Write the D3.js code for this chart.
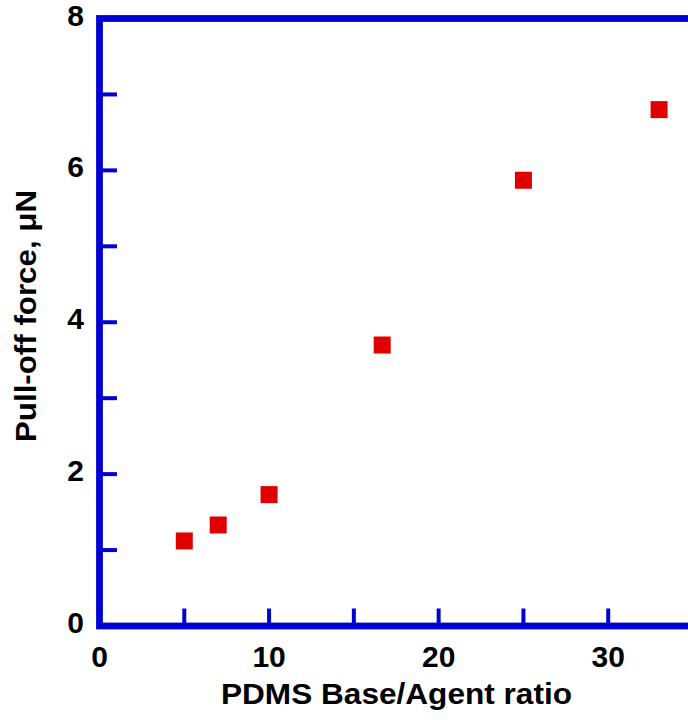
<!DOCTYPE html>
<html><head><meta charset="utf-8">
<script src="https://cdn.jsdelivr.net/npm/d3@7"></script>
<style>
html,body{margin:0;padding:0;background:#fff;}
svg{display:block;}
text{font-family:"Liberation Sans",Arial,sans-serif;font-weight:bold;fill:#000;}
</style></head>
<body>
<svg id="chart" width="688" height="720"></svg>
<script>
// Data
const ratios = [5, 7, 10, 16.67, 25, 33];
const pullOff = [1.12, 1.33, 1.73, 3.70, 5.87, 6.80];
const xTickValues = [5, 10, 15, 20, 25, 30];
const xTickLabels = [0, 10, 20, 30];
const yTickValues = [1, 2, 3, 4, 5, 6, 7];
const yTickLabels = [0, 2, 4, 6, 8];
const xTitle = "PDMS Base/Agent ratio";
const yTitle = "Pull-off force, μN";

const blue = "#0000d2", red = "#e00000";
const svg = d3.select("#chart");
const x = d3.scaleLinear().domain([0, 35]).range([99.5, 693]);
const y = d3.scaleLinear().domain([0, 8]).range([626, 18.5]);

// ticks (inward)
const tickLen = 17.5;
svg.append("g").selectAll("line").data(xTickValues).join("line")
  .attr("x1", d => x(d)).attr("x2", d => x(d))
  .attr("y1", y(0)).attr("y2", y(0) - tickLen)
  .attr("stroke", blue).attr("stroke-width", 4);
svg.append("g").selectAll("line").data(yTickValues).join("line")
  .attr("y1", d => y(d)).attr("y2", d => y(d))
  .attr("x1", x(0)).attr("x2", x(0) + tickLen)
  .attr("stroke", blue).attr("stroke-width", 4);

// frame
svg.append("rect")
  .attr("x", x(0)).attr("y", y(8))
  .attr("width", x(35) - x(0)).attr("height", y(0) - y(8))
  .attr("fill", "none").attr("stroke", blue).attr("stroke-width", 6.8);

// tick labels
svg.append("g").selectAll("text").data(xTickLabels).join("text")
  .attr("x", d => x(d)).attr("y", 667)
  .attr("text-anchor", "middle").attr("font-size", 30)
  .text(d => d);
svg.append("g").selectAll("text").data(yTickLabels).join("text")
  .attr("x", 84).attr("y", d => y(d) + 7)
  .attr("text-anchor", "end").attr("font-size", 30)
  .text(d => d);

// titles
svg.append("text").attr("x", 221).attr("y", 703.5)
  .attr("font-size", 29).attr("textLength", 351).attr("lengthAdjust", "spacingAndGlyphs")
  .text(xTitle);
svg.append("text").attr("transform", "translate(35.5,442) rotate(-90)")
  .attr("font-size", 29).attr("textLength", 252).attr("lengthAdjust", "spacingAndGlyphs")
  .text(yTitle);

// points
const s = 17;
svg.append("g").selectAll("rect").data(ratios.map((r, i) => [r, pullOff[i]])).join("rect")
  .attr("x", d => x(d[0]) - s / 2).attr("y", d => y(d[1]) - s / 2)
  .attr("width", s).attr("height", s).attr("fill", red);
</script>
</body></html>
